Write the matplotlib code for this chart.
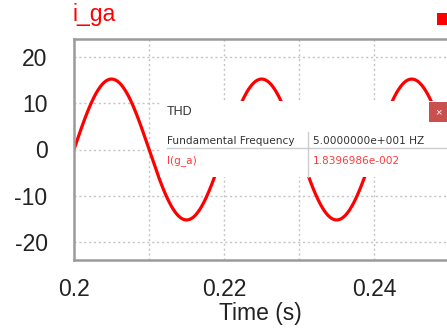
import numpy as np
import matplotlib
matplotlib.use('Agg')
import matplotlib.pyplot as plt
from matplotlib.patches import Rectangle

# waveform (50 Hz fundamental, ~15.3 A peak)
t_start = 0.2
t_end = 0.2497
amplitude = 15.3
frequency = 50.0

x_ticks = [0.2, 0.22, 0.24]
x_tick_labels = ['0.2', '0.22', '0.24']
y_ticks = [-20, -10, 0, 10, 20]
x_grid = [0.21, 0.22, 0.23, 0.24]

table_labels = ['Fundamental Frequency', 'I(g_a)']
table_values = ['5.0000000e+001 HZ', '1.8396986e-002']
table_colors = ['#333333', '#ff3b3b']

W, H = 447, 328
plt.rcParams['font.family'] = ['Liberation Sans', 'DejaVu Sans']
plt.rcParams['axes.unicode_minus'] = False

def fx(x):
    return x / W

def fy(y):
    return 1 - y / H

fig = plt.figure(figsize=(W / 100, H / 100), dpi=100)
ax = fig.add_axes([fx(74), fy(260), 1 - fx(74), fy(39) - fy(260)])

t = np.linspace(t_start, t_end, 2000)
i_ga = amplitude * np.sin(2 * np.pi * frequency * (t - t_start))
ax.plot(t, i_ga, color='#ff0000', lw=2.3, solid_capstyle='round')

ax.set_xlim(t_start, t_end)
ax.set_ylim(-24, 24)
ax.set_xticks(x_ticks)
ax.set_xticklabels(x_tick_labels)
ax.set_yticks(y_ticks)
ax.tick_params(length=0, labelsize=16.5, colors='#222222')
ax.tick_params(axis='y', pad=19)
ax.tick_params(axis='x', pad=13)
for v in x_grid:
    ax.axvline(v, color='#c4c4c4', lw=1, ls=(0, (1.5, 2)), zorder=0)
for v in y_ticks:
    ax.axhline(v, color='#c4c4c4', lw=1, ls=(0, (1.5, 2)), zorder=0)
for side in ['left', 'top', 'bottom']:
    ax.spines[side].set_color('#9a9a9a')
    ax.spines[side].set_linewidth(1.8)
ax.spines['right'].set_visible(False)
ax.set_xlabel('Time (s)', fontsize=16.5, color='#222222', labelpad=1)

fig.text(fx(73), fy(15), 'i_ga', color='#ff0000', fontsize=16.5, va='center', ha='left')
fig.add_artist(Rectangle((fx(437), fy(25)), fx(12), fy(13) - fy(25), transform=fig.transFigure,
                         color='#ff0000', lw=0))

# THD popup box
fig.add_artist(Rectangle((fx(160), fy(177)), 1 - fx(160), fy(101) - fy(177),
                         transform=fig.transFigure, facecolor='white', edgecolor='none', zorder=5))
fig.add_artist(Rectangle((fx(429), fy(122)), fx(20), fy(102) - fy(122),
                         transform=fig.transFigure, facecolor='#c8504e', edgecolor='none', zorder=6))
fig.text(fx(438), fy(112), '×', color='white', fontsize=8, ha='center', va='center', zorder=7)
fig.text(fx(167), fy(112), 'THD', color='#333333', fontsize=9, ha='left', va='center', zorder=7)
fig.add_artist(plt.Line2D([fx(167), 1], [fy(148), fy(148)], transform=fig.transFigure,
                          color='#cccccc', lw=1, zorder=6))
fig.add_artist(plt.Line2D([fx(308), fx(308)], [fy(132), fy(177)], transform=fig.transFigure,
                          color='#cccccc', lw=1, zorder=6))
for k, (lab, val, col) in enumerate(zip(table_labels, table_values, table_colors)):
    yy = fy(141 + 20 * k)
    fig.text(fx(167), yy, lab, color=col, fontsize=7.6, ha='left', va='center',
             family=['DejaVu Sans'], zorder=7)
    fig.text(fx(313), yy, val, color=col, fontsize=7.6, ha='left', va='center',
             family=['DejaVu Sans'], zorder=7)

fig.savefig('out.png', dpi=100)
